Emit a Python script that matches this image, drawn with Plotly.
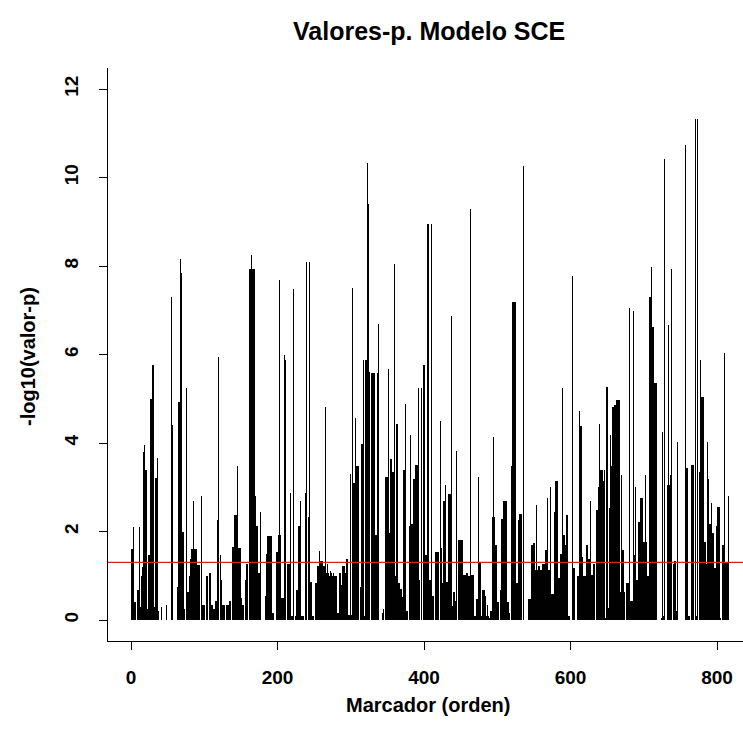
import math
import plotly.graph_objects as go

# -log10(p) per marker (marker order 1..N)
neglog_p = [
    1.6, 1.6, 2.1, 0.4, 0.4, 0.4, 0, 0, 0.67, 0.67,
    0.67, 2.1, 0.3, 1.0, 1.0, 1.2, 3.8, 3.8, 3.95, 3.4,
    3.4, 0.24, 0.24, 1.46, 1.46, 1.46, 5.0, 5.0, 1.4, 5.76,
    5.76, 0.3, 0, 3.2, 3.2, 3.67, 0.2, 0, 0, 0,
    0.3, 0, 0, 0, 0, 0, 0, 0.35, 0, 0,
    0, 0, 0, 0, 7.3, 4.4, 4.4, 0, 0, 0,
    0, 0, 0.75, 0.75, 4.93, 4.93, 8.16, 7.85, 7.85, 2.0,
    2.0, 0.24, 0.24, 0, 0, 5.24, 0.63, 0.63, 0.63, 0.99,
    1.38, 1.38, 1.6, 1.6, 2.68, 1.6, 1.6, 1.6, 1.6, 1.24,
    1.24, 1.24, 1.24, 1.24, 0, 2.8, 0.35, 0.35, 0.35, 0.35,
    0.35, 0, 1.0, 1.0, 0.16, 0, 1.06, 1.06, 0.35, 0.35,
    0.35, 0.24, 0.24, 0.24, 0, 0.43, 0.43, 2.25, 2.25, 5.95,
    0, 1.46, 0.9, 0.9, 0.35, 0.35, 0.35, 0, 0, 0,
    0.35, 0.35, 0.35, 0.35, 0.43, 0.43, 0, 1.66, 1.66, 1.66,
    2.37, 2.37, 2.37, 2.37, 3.47, 1.62, 1.62, 1.62, 1.62, 0.5,
    0.5, 0.35, 0.35, 0.35, 0, 0.9, 1.26, 1.26, 1.26, 0,
    0, 7.93, 7.93, 8.24, 7.93, 7.93, 7.93, 7.93, 2.13, 2.8,
    2.13, 2.13, 2.13, 1.06, 1.06, 1.06, 2.45, 0, 0, 0,
    0, 0, 0, 0.55, 1.5, 1.5, 1.9, 1.9, 1.9, 1.9,
    1.9, 1.9, 0.16, 0.16, 0.16, 0, 0, 0, 1.54, 1.54,
    1.93, 1.93, 7.69, 1.93, 0, 0.5, 0.5, 0.5, 6.0, 5.88,
    5.88, 0, 0, 1.26, 1.26, 1.26, 0, 2.88, 0.08, 0.08,
    0, 7.48, 0, 0.08, 0, 0.67, 0.67, 2.13, 2.13, 2.13,
    2.68, 0, 0.1, 0.1, 0.1, 0, 0, 2.88, 2.88, 8.08,
    0, 2.33, 3.2, 8.08, 0.87, 0.87, 0.08, 0.08, 0.08, 0,
    0, 0.83, 0.83, 1.22, 1.22, 1.22, 1.22, 1.55, 1.34, 1.34,
    1.34, 1.34, 1.22, 1.22, 4.81, 1.06, 1.06, 1.26, 1.06, 1.06,
    1.0, 1.06, 1.1, 1.06, 1.0, 1.06, 1.0, 0.99, 0.99, 0.99,
    0, 0.16, 0.16, 0.16, 1.06, 1.06, 0.8, 0.8, 1.22, 1.22,
    1.22, 1.06, 1.06, 1.38, 1.38, 0.12, 0.12, 0.12, 3.3, 0,
    0.12, 0, 7.5, 3.1, 3.1, 3.1, 4.57, 3.47, 3.47, 3.47,
    0, 0, 0.75, 3.98, 3.98, 3.98, 5.88, 0.1, 0.1, 5.88,
    5.88, 5.88, 10.33, 9.41, 5.6, 0, 0, 0, 5.58, 5.58,
    5.58, 5.58, 5.58, 1.93, 1.93, 5.58, 5.58, 6.7, 0, 0,
    0, 0, 0, 0.16, 0.25, 0, 0, 3.23, 3.23, 3.23,
    5.68, 1.97, 1.97, 3.63, 3.63, 3.63, 3.35, 3.35, 3.35, 8.04,
    0.99, 0.99, 4.42, 4.42, 0.83, 0.83, 0.83, 0.71, 0.71, 0.51,
    0.51, 3.39, 3.39, 3.39, 4.89, 0.2, 0.2, 0.2, 0, 2.13,
    2.13, 4.18, 2.17, 2.17, 2.17, 3.19, 3.19, 3.19, 3.51, 3.51,
    3.51, 5.24, 4.85, 0.9, 0, 5.24, 5.24, 0, 5.76, 5.76,
    5.76, 1.46, 1.46, 1.46, 8.95, 8.95, 0.9, 0.9, 0.9, 8.95,
    0.55, 0.55, 0.55, 0, 0, 1.54, 1.54, 1.54, 1.54, 1.54,
    0, 4.5, 1.62, 1.62, 0.83, 0.83, 2.68, 2.68, 3.04, 0.87,
    0.87, 0.87, 0, 2.84, 2.84, 2.84, 6.88, 0.32, 0.32, 0.63,
    0.63, 0.43, 0.43, 0.43, 3.82, 0, 1.81, 1.81, 1.81, 1.81,
    1.81, 1.81, 1.02, 1.02, 1.02, 1.02, 1.02, 1.06, 1.06, 0.99,
    0.99, 0.99, 0, 9.28, 1.02, 1.02, 1.02, 0.08, 0.08, 0.08,
    0.47, 0.47, 0.47, 3.23, 1.3, 1.3, 1.3, 0.1, 0.1, 0.67,
    0.67, 0.67, 0.55, 0.55, 0.1, 0.35, 0.35, 0.1, 0.05, 0,
    0.2, 0.2, 0.2, 2.33, 4.14, 2.33, 1.7, 1.7, 1.7, 0.4,
    0.4, 0.4, 0, 0.67, 0.67, 2.29, 2.29, 2.68, 2.68, 2.68,
    2.68, 2.68, 0.4, 0.4, 0.4, 0.16, 0.16, 0, 3.47, 3.47,
    7.18, 7.18, 7.18, 7.18, 7.18, 0.83, 0.83, 0.83, 2.25, 2.25,
    2.4, 2.4, 2.4, 0, 0, 10.25, 0, 0, 0, 0,
    0, 0.47, 0.47, 0.47, 0.47, 0, 1.7, 1.7, 1.7, 1.73,
    1.73, 1.14, 2.6, 1.14, 1.14, 1.22, 1.22, 1.22, 1.14, 1.14,
    0, 1.26, 1.26, 1.26, 1.26, 1.58, 1.58, 1.58, 2.76, 1.14,
    1.14, 1.14, 3.0, 0.59, 0.59, 0.59, 0.59, 2.45, 2.45, 3.15,
    3.15, 3.15, 0.95, 0.95, 0.95, 1.5, 1.5, 1.5, 5.24, 1.93,
    1.93, 1.93, 1.7, 0, 2.37, 2.37, 0.08, 0.08, 0.08, 0,
    0, 0, 7.77, 1.18, 1.18, 1.18, 0, 0, 0.99, 0.99,
    0.99, 4.73, 4.38, 4.38, 4.38, 1.42, 1.42, 0.99, 0.99, 0.99,
    0.99, 1.7, 1.7, 1.38, 1.38, 1.38, 2.68, 1.02, 1.02, 1.02,
    1.26, 1.26, 1.26, 0, 0, 2.48, 2.48, 3.0, 3.0, 4.42,
    3.39, 3.39, 3.39, 3.15, 3.15, 3.15, 3.39, 0.05, 5.26, 5.26,
    5.26, 0.28, 2.52, 4.18, 3.47, 3.47, 3.47, 4.81, 4.81, 4.85,
    4.85, 0, 4.97, 4.97, 4.97, 4.97, 4.97, 0.63, 0.63, 3.27,
    1.58, 1.58, 0.63, 0.63, 0, 0, 0.83, 0.83, 0.83, 7.06,
    0, 0.43, 0.43, 0.43, 0, 6.98, 1.46, 1.46, 3.0, 0.9,
    0.9, 0.9, 2.21, 2.21, 2.21, 2.76, 2.76, 2.76, 1.77, 1.77,
    1.77, 3.27, 1.77, 1.77, 0.99, 0.99, 0, 7.3, 7.3, 7.3,
    7.97, 6.62, 6.62, 5.36, 5.36, 5.36, 5.36, 0, 0, 0,
    0, 0, 0, 0.05, 4.26, 0, 0.08, 0.08, 10.41, 0,
    0, 3.04, 3.04, 6.66, 3.04, 3.27, 3.27, 7.94, 0, 1.26,
    1.26, 1.34, 1.34, 0.2, 0.2, 4.02, 0, 0, 0, 0,
    0, 0, 0, 0, 0, 0, 10.73, 3.43, 3.43, 3.43,
    0.08, 0.08, 0.08, 0, 3.51, 3.51, 3.51, 3.51, 0, 11.32,
    0.08, 0.08, 0.08, 11.32, 0, 3.35, 3.35, 5.88, 5.05, 5.05,
    5.05, 5.05, 1.77, 1.77, 1.26, 1.26, 4.02, 3.19, 3.19, 2.17,
    2.17, 2.64, 1.97, 1.97, 1.97, 1.18, 1.18, 1.18, 2.13, 2.13,
    2.56, 2.56, 2.56, 0.05, 0.05, 0, 1.62, 1.7, 1.7, 6.03,
    0, 1.3, 1.3, 1.3, 0, 2.8,
]
markers = list(range(1, len(neglog_p) + 1))

x_ticks = [0, 200, 400, 600, 800]
y_ticks = [0, 2, 4, 6, 8, 10, 12]
alpha = 0.05
threshold = -math.log10(alpha)

title_text = "Valores-p. Modelo SCE"
x_title = "Marcador (orden)"
y_title = "-log10(valor-p)"

W, H = 743, 742
L, R, T, B = 108, 0, 68, 101
FONT = "Liberation Sans, Arial, sans-serif"

x_px = 0.7325  # pixels per marker
fig = go.Figure()
fig.add_trace(go.Bar(
    x=markers, y=neglog_p, width=1.0 / x_px,
    marker=dict(color="rgba(0,0,0,0.995)", line=dict(width=0)),
    hoverinfo="x+y", showlegend=False,
))

fig.add_shape(type="line", xref="paper", yref="y", x0=0, x1=1,
              y0=threshold, y1=threshold,
              line=dict(color="#d42222", width=1.2), layer="above")

x0_pix = 131 - L
xr = [-x0_pix / x_px, (W - L - R - x0_pix) / x_px]
y_px = 44.25
plot_h = H - T - B
y0_pix = 620 - T
yr = [-(plot_h - y0_pix) / y_px, y0_pix / y_px]

axis_font = dict(family=FONT, size=19, color="black", weight="bold")
fig.update_layout(
    width=W, height=H,
    margin=dict(l=L, r=R, t=T, b=B, pad=0),
    paper_bgcolor="white", plot_bgcolor="white",
    bargap=0,
    xaxis=dict(range=xr, tickmode="array", tickvals=x_ticks,
               ticktext=[str(v) for v in x_ticks],
               showgrid=False, zeroline=False, showline=True,
               linecolor="black", linewidth=1, ticks="outside",
               ticklen=8, tickcolor="black", tickwidth=1,
               tickfont=axis_font, ticklabelstandoff=11),
    yaxis=dict(range=yr, tickmode="array", tickvals=y_ticks,
               ticktext=[str(v) for v in y_ticks],
               showgrid=False, zeroline=False, showline=True,
               linecolor="black", linewidth=1, ticks="outside",
               ticklen=8, tickcolor="black", tickwidth=1,
               tickangle=-90, tickfont=axis_font, ticklabelstandoff=13),
    annotations=[
        dict(text="<b>" + title_text + "</b>", xref="paper", yref="paper",
             x=(429 - L) / (W - L - R), y=1 + (T - 31) / plot_h,
             xanchor="center", yanchor="middle", showarrow=False,
             font=dict(family=FONT, size=25, color="black")),
        dict(text="<b>" + x_title + "</b>", xref="paper", yref="paper",
             x=(428 - L) / (W - L - R), y=-(705 - (H - B)) / plot_h,
             xanchor="center", yanchor="middle", showarrow=False,
             font=dict(family=FONT, size=20, color="black")),
        dict(text="<b>" + y_title + "</b>", xref="paper", yref="paper",
             x=-(L - 28) / (W - L - R), y=(H - B - 357) / plot_h,
             xanchor="center", yanchor="middle", showarrow=False,
             textangle=-90,
             font=dict(family=FONT, size=20, color="black")),
    ],
)

fig.write_html("out.html", config={"displayModeBar": False})
